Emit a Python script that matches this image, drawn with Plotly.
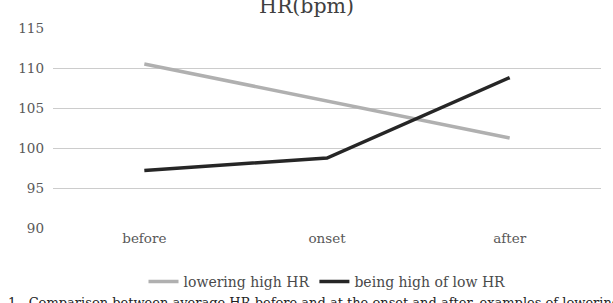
import plotly.graph_objects as go

categories = ["before", "onset", "after"]
lowering_high = [110.5, 105.9, 101.25]
high_of_low = [97.2, 98.75, 108.8]
series_names = ["lowering high HR", "being high of low HR"]
y_ticks = [90, 95, 100, 105, 110, 115]

FONT = "DejaVu Serif"
H = 303

fig = go.Figure()
fig.add_trace(go.Scatter(x=categories, y=lowering_high, mode="lines", name=series_names[0],
                         line=dict(color="#b0b0b0", width=3.5)))
fig.add_trace(go.Scatter(x=categories, y=high_of_low, mode="lines", name=series_names[1],
                         line=dict(color="#262626", width=3.5)))

fig.update_layout(
    width=613, height=H,
    margin=dict(l=53, r=12, t=28, b=75),
    paper_bgcolor="white", plot_bgcolor="white",
    font=dict(family=FONT, color="#595959", size=13.5),
    title=dict(text="HR(bpm)", x=0.5, xanchor="center", y=1 - 6/H, yanchor="middle",
               font=dict(family=FONT, size=20.5, color="#404040")),
    showlegend=True,
    legend=dict(orientation="h", x=0.5, xanchor="center", yref="container",
                y=1 - 282/H, yanchor="middle",
                font=dict(family=FONT, size=14, color="#4a4a4a"), itemwidth=30,
                bgcolor="rgba(0,0,0,0)"),
    xaxis=dict(showgrid=False, zeroline=False, showline=False, ticks="",
               tickfont=dict(size=13.5, color="#595959"), range=[-0.5, 2.5]),
    yaxis=dict(range=[90, 115], tickvals=y_ticks, showgrid=True, gridcolor="#cccccc",
               gridwidth=1.3, zeroline=False, showline=False, ticks="",
               tickfont=dict(size=13.5, color="#595959"), ticklabelstandoff=8),
)

fig.add_annotation(text="1.  Comparison between average HR before and at the onset and after, examples of lowering and high",
                   xref="paper", yref="paper", x=-0.085, xanchor="left",
                   y=-0.325, yanchor="top", showarrow=False,
                   font=dict(family=FONT, size=13, color="#222222"))

fig.write_html("out.html")
